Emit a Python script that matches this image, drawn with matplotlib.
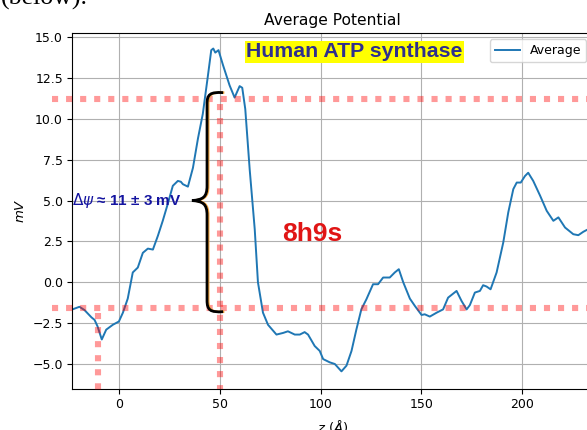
import matplotlib
matplotlib.use('Agg')
import matplotlib.pyplot as plt
import matplotlib.transforms as mtransforms
from matplotlib.path import Path
from matplotlib.patches import PathPatch

# ---------------- data ----------------
z = [-23.4, -19.9, -17.4, -13.9, -12.4, -10.9, -8.8, -6.6, -3.3, -0.3,
     1.7, 4.1, 6.6, 9.1, 11.6, 14.1, 16.6, 19.1, 21.5, 24.0,
     26.5, 29.0, 30.5, 31.5, 34.0, 36.5, 39.0, 41.4, 43.9, 45.6,
     46.6, 47.6, 49.2, 51.4, 54.7, 57.2, 59.7, 61.0, 62.5, 64.7,
     67.2, 68.8, 71.3, 73.8, 78.0, 81.3, 83.7, 87.1, 89.6, 92.0,
     93.7, 97.0, 99.5, 101.2, 104.5, 107.0, 110.3, 112.8, 115.3, 117.7,
     120.2, 122.7, 126.0, 128.5, 131.0, 134.3, 136.8, 138.8, 141.0, 144.3,
     146.8, 150.1, 151.7, 154.2, 157.6, 160.8, 163.3, 167.5, 170.0, 172.5,
     174.1, 176.6, 179.1, 180.7, 182.4, 184.4, 187.4, 190.7, 193.2, 195.7,
     197.4, 199.4, 201.5, 203.1, 205.6, 209.0, 212.3, 215.6, 218.1, 221.4,
     225.5, 228.0, 230.5, 232.2, 235.0]
average = [-1.66, -1.5, -1.7, -2.15, -2.3, -2.7, -3.5, -2.9, -2.6, -2.4,
           -1.86, -1.0, 0.6, 0.9, 1.8, 2.06, 2.0, 2.85, 3.76, 4.8,
           5.9, 6.2, 6.15, 6.0, 5.85, 7.0, 8.8, 10.3, 12.6, 14.2,
           14.3, 14.05, 14.2, 13.3, 12.05, 11.3, 12.0, 11.9, 10.6, 6.9,
           3.25, 0.0, -1.86, -2.6, -3.2, -3.1, -3.0, -3.2, -3.2, -3.05,
           -3.2, -3.9, -4.2, -4.7, -4.9, -5.0, -5.45, -5.1, -4.2, -2.9,
           -1.65, -1.04, -0.12, -0.12, 0.29, 0.29, 0.6, 0.8, 0.0, -1.0,
           -1.45, -2.0, -1.96, -2.1, -1.86, -1.66, -0.94, -0.53, -1.15, -1.66,
           -1.4, -0.63, -0.53, -0.18, -0.26, -0.43, 0.6, 2.43, 4.28, 5.7,
           6.1, 6.1, 6.5, 6.7, 6.2, 5.3, 4.37, 3.76, 3.97, 3.35,
           2.94, 2.88, 3.09, 3.2, 3.35]

x_ticks = [0, 50, 100, 150, 200]
y_ticks = [-5.0, -2.5, 0.0, 2.5, 5.0, 7.5, 10.0, 12.5, 15.0]

# annotation reference values
level_high = 11.23
level_low = -1.55
z_high = 50.0
z_low = -10.7
brace_top = 11.6
brace_bottom = -1.8
brace_tip_y = 5.0

# ---------------- figure ----------------
fig = plt.figure(figsize=(5.87, 4.30), dpi=100)
W, H = 587, 430
ax = fig.add_axes([72.4 / W, 1 - 389 / H, (592.4 - 72.4) / W, (389 - 33) / H])

ax.plot(z, average, color='#1f77b4', lw=1.4, label='Average', zorder=2)
ax.set_xlim(z[0], z[-1])
ax.set_ylim(-6.53, 15.25)
ax.set_xticks(x_ticks)
ax.set_yticks(y_ticks)
ax.set_yticklabels([f'{v:.1f}'.replace('-', '\u2212') for v in y_ticks])
ax.grid(True, color='#b0b0b0', lw=0.8)
ax.tick_params(labelsize=9, length=3.3, width=0.8)
ax.set_title('Average Potential', fontsize=11.2)
ax.set_ylabel('$mV$', fontsize=9.5)
ax.set_xlabel(r'$z\ (\AA)$', fontsize=9.5, labelpad=5)
ax.legend(loc='upper right', fontsize=9)

# red dotted reference lines (drawn over the chart, extending past the axes)
red_kw = dict(color='red', alpha=0.4, lw=4.4, linestyle=(0, (1, 1.3)),
              dash_capstyle='butt', clip_on=False, zorder=4)
x_left_ext = -33.5
x_right_ext = 245
ax.plot([x_left_ext, x_right_ext], [level_high, level_high], **red_kw)
ax.plot([x_left_ext, x_right_ext], [level_low, level_low], **red_kw)
ax.plot([z_high, z_high], [level_high - 0.35, -6.53], **red_kw)
ax.plot([z_low, z_low], [level_low - 0.35, -6.8], **red_kw)

# curly brace
bx = 43.5
tip_x = 36.0
end_x = 51.5
verts = [
    (end_x, brace_top),
    (bx + 1.5, brace_top + 0.05), (bx, brace_top - 0.1), (bx, brace_top - 0.7),
    (bx, brace_tip_y + 0.9),
    (bx, brace_tip_y + 0.2), (bx - 2.0, brace_tip_y + 0.05), (tip_x, brace_tip_y),
    (bx - 2.0, brace_tip_y - 0.05), (bx, brace_tip_y - 0.2), (bx, brace_tip_y - 0.9),
    (bx, brace_bottom + 0.7),
    (bx, brace_bottom + 0.1), (bx + 1.5, brace_bottom - 0.05), (end_x, brace_bottom),
]
codes = [Path.MOVETO,
         Path.CURVE4, Path.CURVE4, Path.CURVE4,
         Path.LINETO,
         Path.CURVE4, Path.CURVE4, Path.CURVE4,
         Path.CURVE4, Path.CURVE4, Path.CURVE4,
         Path.LINETO,
         Path.CURVE4, Path.CURVE4, Path.CURVE4]
path = Path(verts, codes)
shadow_tr = mtransforms.offset_copy(ax.transData, fig=fig, x=1.2, y=0, units='dots')
ax.add_patch(PathPatch(path, facecolor='none', edgecolor='#f2a33a', lw=1.8,
                       transform=shadow_tr, clip_on=False, zorder=5))
ax.add_patch(PathPatch(path, facecolor='none', edgecolor='black', lw=2.0,
                       clip_on=False, zorder=6))

# texts
ax.text(30.8, brace_tip_y, r'$\Delta\psi$ ≈ 11 ± 3 mV', fontsize=11, fontweight='bold',
        family='Liberation Sans', color='#1414a0', ha='right', va='center', zorder=7)
ax.text(116.8, 14.1, 'Human ATP synthase', fontsize=15.3, fontweight='bold',
        family='Liberation Sans', color='#2e2f8f', ha='center', va='center', zorder=7,
        bbox=dict(facecolor='#ffff00', edgecolor='none', pad=1.2))
ax.text(96.0, 2.95, '8h9s', fontsize=19, fontweight='bold', color='#e01515',
        family='Liberation Sans', ha='center', va='center', zorder=7)

fig.text(1 / W, 1 - 5 / H, '(below).', family='Liberation Serif', fontsize=18.6,
         ha='left', va='baseline')

fig.savefig('out.png', dpi=100)
